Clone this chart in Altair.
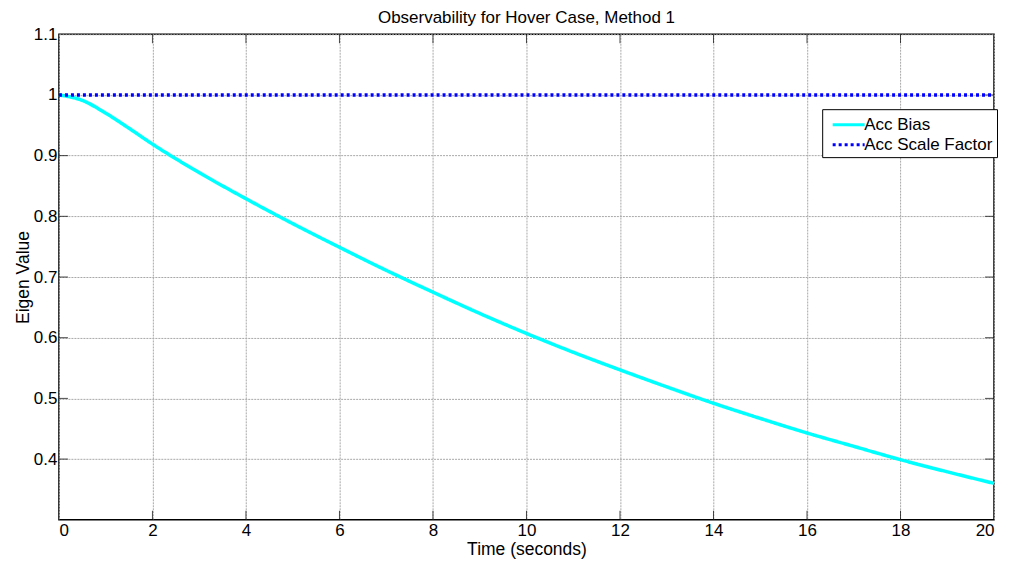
import altair as alt
import pandas as pd

time_s = [0, 0.5, 1, 1.5, 2, 3, 4, 5, 6, 7, 8, 9, 10, 11, 12, 13, 14, 15, 16, 17, 18, 19, 20]
acc_bias = [1.0, 0.991, 0.970, 0.945, 0.919, 0.872, 0.829, 0.788, 0.749, 0.711, 0.675, 0.640, 0.607, 0.576, 0.547, 0.519, 0.492, 0.467, 0.443, 0.421, 0.399, 0.379, 0.360]
acc_scale = [1.0] * len(time_s)
series_names = ["Acc Bias", "Acc Scale Factor"]
x_ticks = [0, 2, 4, 6, 8, 10, 12, 14, 16, 18, 20]
y_ticks = [0.4, 0.5, 0.6, 0.7, 0.8, 0.9, 1.0, 1.1]

rows = []
for t, v in zip(time_s, acc_bias):
    rows.append({"t": t, "v": v, "s": series_names[0]})
for t, v in zip(time_s, acc_scale):
    rows.append({"t": t, "v": v, "s": series_names[1]})
df = pd.DataFrame(rows)

W, H = 936, 486
xs = alt.Scale(domain=[0, 20], nice=False, zero=False)
ys = alt.Scale(domain=[0.3, 1.1], nice=False, zero=False)

leg = dict(title=None, orient="none", legendX=764, legendY=75,
           symbolType="M-0.5,0H2.7", symbolSize=400, symbolStrokeWidth=3,
           strokeColor="black", fillColor="white", padding=4,
           labelFont="Liberation Sans", labelFontSize=17, labelOffset=15,
           labelColor="black", rowPadding=0)

lines = alt.Chart(df).mark_line(strokeWidth=3.5, interpolate="monotone").encode(
    x=alt.X("t:Q", scale=xs,
            axis=alt.Axis(values=x_ticks, title="Time (seconds)", grid=True, format="d",
                          labelPadding=3, titlePadding=2)),
    y=alt.Y("v:Q", scale=ys,
            axis=alt.Axis(values=y_ticks, title="Eigen Value", grid=True, format="~g",
                          labelPadding=2, titlePadding=1)),
    color=alt.Color("s:N", scale=alt.Scale(domain=series_names, range=["#00ffff", "#0000ff"]),
                    legend=alt.Legend(**leg)),
    strokeDash=alt.StrokeDash("s:N", scale=alt.Scale(domain=series_names, range=[[1, 0], [3, 3]]),
                              legend=alt.Legend(**leg)),
)

xt = pd.DataFrame({"t": x_ticks[1:-1]})
yt = pd.DataFrame({"v": y_ticks[:-1]})
xb = alt.Chart(xt).mark_tick(orient="vertical", color="black", thickness=1, size=9).encode(
    x=alt.X("t:Q", scale=xs), y=alt.value(H - 4.5))
xtop = alt.Chart(xt).mark_tick(orient="vertical", color="black", thickness=1, size=9).encode(
    x=alt.X("t:Q", scale=xs), y=alt.value(4.5))
yl = alt.Chart(yt).mark_tick(orient="horizontal", color="black", thickness=1, size=9).encode(
    y=alt.Y("v:Q", scale=ys), x=alt.value(4.5))
yr = alt.Chart(yt).mark_tick(orient="horizontal", color="black", thickness=1, size=9).encode(
    y=alt.Y("v:Q", scale=ys), x=alt.value(W - 4.5))

chart = alt.layer(xb, xtop, yl, yr, lines).properties(
    width=W, height=H,
    autosize="none",
    padding={"left": 51, "top": 26, "right": 8, "bottom": 46},
    title=alt.Title("Observability for Hover Case, Method 1", font="Liberation Sans",
                    fontSize=17, fontWeight="normal", color="black", offset=-2),
).configure_view(stroke="black", strokeWidth=1.5).configure_axis(
    domain=False, ticks=False,
    gridColor="#a8a8a8", gridWidth=1, gridDash=[2, 1],
    labelFont="Liberation Sans", labelFontSize=17, labelColor="black",
    titleFont="Liberation Sans", titleFontSize=17.5, titleFontWeight="normal", titleColor="black",
)

chart.save("out.html", embed_options={"renderer": "svg", "actions": False})
